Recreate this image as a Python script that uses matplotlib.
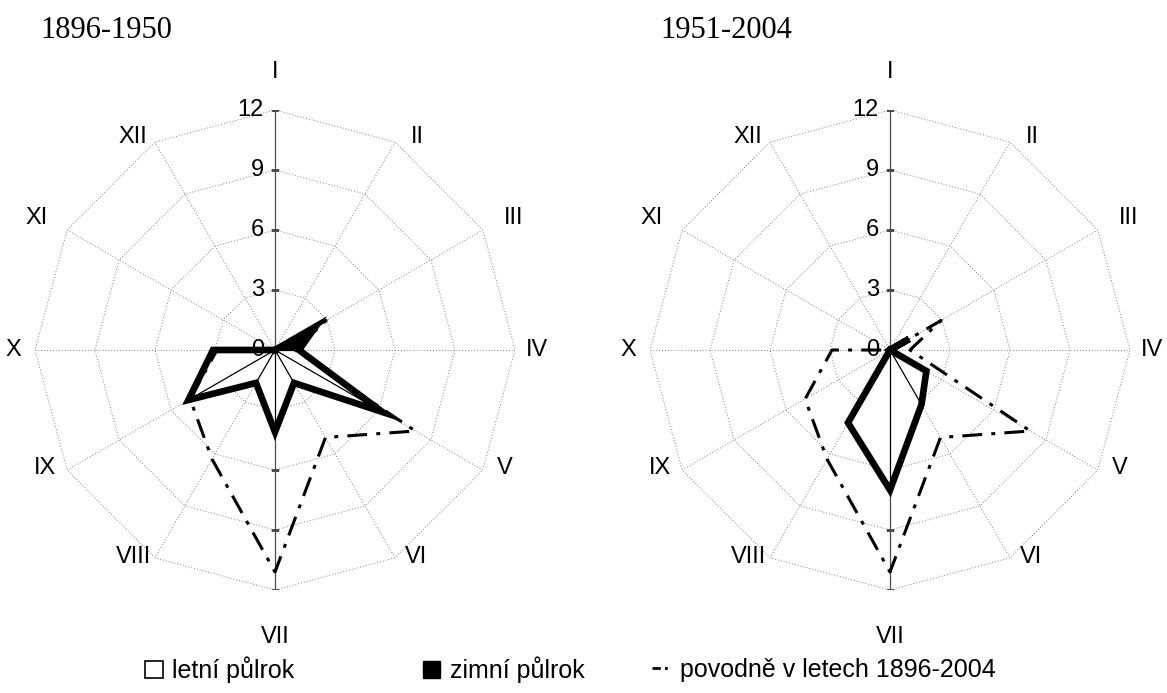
import numpy as np
import matplotlib.pyplot as plt
from matplotlib.patches import Patch
from matplotlib.lines import Line2D

plt.rcParams['font.family'] = ['Liberation Sans', 'DejaVu Sans']

months = ['I', 'II', 'III', 'IV', 'V', 'VI', 'VII', 'VIII', 'IX', 'X', 'XI', 'XII']
winter_months = ['X', 'XI', 'XII', 'I', 'II', 'III']
r_ticks = [0, 3, 6, 9, 12]

# pocet povodni podle mesicu
floods_1896_1950 = [0, 0, 2.35, 1.2, 6.2, 1.9, 4.1, 1.9, 5.0, 3.1, 0, 0]
floods_1951_2004 = [0, 0, 1.1, 0, 2.1, 3.15, 7.0, 4.2, 0, 0, 0, 0]
floods_1896_2004 = [0, 0, 2.95, 1.0, 8.1, 5.05, 11.1, 6.3, 4.9, 2.9, 0, 0]

titles = ['1896-1950', '1951-2004']

W, H = 1167, 693
fig = plt.figure(figsize=(W / 100, H / 100), dpi=100)

theta = np.linspace(0, 2 * np.pi, len(months), endpoint=False)
theta_c = np.append(theta, theta[0])
dash_dot = (0, (6.5, 3, 1.3, 3))

# posun popisku mesicu od vrcholu mrizky (px)
label_off = {'I': (0, 38), 'II': (22, 5), 'III': (31, 12), 'IV': (22, 0),
             'V': (22, 2), 'VI': (21, 1), 'VII': (0, -47), 'VIII': (-21, 1),
             'IX': (-22, 2), 'X': (-22, 0), 'XI': (-31, 12), 'XII': (-22, 5)}


def radar(cx, period, flood, title, tx):
    R = 240
    ax = fig.add_axes([(cx - R) / W, 1 - (350 + R) / H, 2 * R / W, 2 * R / H],
                      projection='polar')
    ax.set_theta_zero_location('N')
    ax.set_theta_direction(-1)
    ax.set_ylim(0, 12)
    ax.grid(False)
    ax.spines['polar'].set_visible(False)
    ax.set_xticks([])
    ax.set_yticks([])
    ax.patch.set_alpha(0)

    # polygonova mrizka
    for r in r_ticks[1:]:
        ax.plot(theta_c, [r] * len(theta_c), color='0.5', lw=0.7,
                ls=(0, (1, 2)), zorder=1)
    for i, a in enumerate(theta):
        if months[i] in ('I', 'VII'):
            ax.plot([a, a], [0, 12], color='0.3', lw=0.9, zorder=1)
        else:
            ax.plot([a, a], [0, 12], color='0.5', lw=0.7,
                    ls=(0, (1, 2)), zorder=1)
    ax.plot([0] * 4 + [np.pi] * 4, r_ticks[1:] * 2, ls='none', marker='_',
            ms=6, color='0.3', zorder=1)
    for r in r_ticks:
        ax.annotate(str(r), (0, r), xytext=(-8, 0), textcoords='offset points',
                    ha='right', va='center', fontsize=17, zorder=6)

    # popisky mesicu
    for i, m in enumerate(months):
        ax.annotate(m, (theta[i], 12), xytext=label_off[m],
                    textcoords='offset pixels', ha='center', va='center',
                    fontsize=17, annotation_clip=False)

    # vypln (letni bile, zimni cerne) a paprsky
    p = np.array(period)
    for i in range(len(months)):
        j = (i + 1) % len(months)
        fc = 'black' if months[i] in winter_months else 'white'
        ax.fill([0, theta[i], theta[j]], [0, p[i], p[j]], facecolor=fc,
                edgecolor='none', zorder=2)
        if p[i] > 0:
            ax.plot([theta[i], theta[i]], [0, p[i]], color='black', lw=0.9,
                    zorder=3)

    ax.plot(theta_c, np.append(flood, flood[0]), color='black', lw=2.2,
            ls=dash_dot, zorder=4)
    ax.plot(theta_c, np.append(p, p[0]), color='black', lw=4.8,
            solid_joinstyle='miter', zorder=5)

    fig.text(tx / W, 1 - 30 / H, title, family='Liberation Serif', fontsize=22,
             va='center', ha='left')
    return ax


radar(275, floods_1896_1950, floods_1896_2004, titles[0], 40)
radar(890, floods_1951_2004, floods_1896_2004, titles[1], 660)

legend_items = [
    (Patch(facecolor='white', edgecolor='black', lw=1.2), 'letní půlrok', 145),
    (Patch(facecolor='black', edgecolor='black'), 'zimní půlrok', 423),
    (Line2D([], [], color='black', lw=2, ls=(0, (3, 1.5, 1, 1.5))),
     'povodně v letech 1896-2004', 652),
]
for h, lab, x in legend_items:
    fig.legend([h], [lab], loc='center left', bbox_to_anchor=(x / W, 1 - 670 / H),
               frameon=False, fontsize=18, handlelength=0.7, handleheight=0.7,
               handletextpad=0.4, borderpad=0, borderaxespad=0)

fig.savefig('out.png', dpi=100)
